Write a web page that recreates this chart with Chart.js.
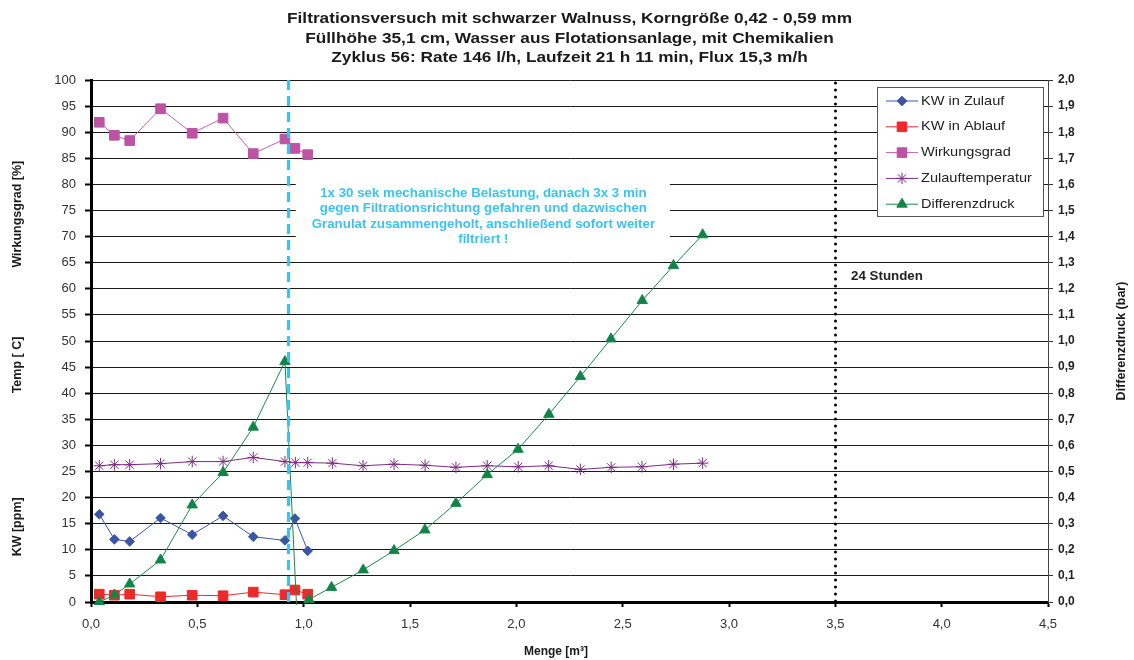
<!DOCTYPE html>
<html>
<head>
<meta charset="utf-8">
<script src="https://cdn.jsdelivr.net/npm/chart.js@4.4.1/dist/chart.umd.min.js"></script>
<style>
  html, body { margin: 0; padding: 0; background: #fff; overflow: hidden; }
  #wrap { width: 1134px; height: 660px; position: relative; }
</style>
</head>
<body>
<div id="wrap"><canvas id="c" width="1134" height="660"></canvas></div>
<script>
// Filtration run, cycle 56 – measured values over throughput (Menge in m³)

const titleLines = [
  'Filtrationsversuch mit schwarzer Walnuss, Korngröße 0,42 - 0,59 mm',
  'Füllhöhe 35,1 cm, Wasser aus Flotationsanlage, mit Chemikalien',
  'Zyklus 56: Rate 146 l/h, Laufzeit 21 h 11 min, Flux 15,3 m/h'
];

// sampling points for the lab measurements (before the backwash)
const mengeLabor = [0.039, 0.11, 0.182, 0.327, 0.476, 0.621, 0.763, 0.912, 0.959, 1.019];
const kwZulauf     = [16.8, 12.0, 11.6, 16.1, 12.9, 16.5, 12.5, 11.8, 16.0, 9.8];
const kwAblauf     = [1.5, 1.3, 1.5, 1.0, 1.3, 1.2, 1.9, 1.4, 2.3, 1.5];
const wirkungsgrad = [91.9, 89.4, 88.4, 94.5, 89.8, 92.7, 85.9, 88.7, 86.9, 85.7];

// inlet temperature
const mengeTemp = [0.039, 0.11, 0.182, 0.327, 0.476, 0.621, 0.763, 0.912, 0.961, 1.019,
                   1.135, 1.279, 1.425, 1.571, 1.716, 1.863, 2.009, 2.152, 2.301, 2.446,
                   2.591, 2.739, 2.876];
const temperatur = [26.1, 26.3, 26.3, 26.5, 26.9, 26.9, 27.7, 26.9, 26.7, 26.7,
                    26.6, 26.1, 26.4, 26.2, 25.8, 26.1, 25.9, 26.1, 25.4, 25.8,
                    25.9, 26.4, 26.6];

// differential pressure (bar)
const mengeDruck = [0.039, 0.11, 0.182, 0.327, 0.476, 0.621, 0.763, 0.912, 0.968, 1.025,
                    1.131, 1.28, 1.425, 1.57, 1.716, 1.863, 2.008, 2.153, 2.301, 2.445,
                    2.592, 2.739, 2.876];
const druck = [0.0, 0.027, 0.069, 0.161, 0.372, 0.496, 0.670, 0.921, -0.04, 0.01,
               0.056, 0.123, 0.197, 0.276, 0.378, 0.488, 0.585, 0.719, 0.864, 1.008,
               1.155, 1.289, 1.407];

// markers on the throughput axis
const mengeBelastung = 0.928;   // mechanical load / backwash
const menge24h = 3.5;           // 24 hours mark

const noteLines = [
  '1x 30 sek mechanische Belastung, danach 3x 3 min',
  'gegen Filtrationsrichtung gefahren und dazwischen',
  'Granulat zusammengeholt, anschließend sofort weiter',
  'filtriert !'
];
const note24h = '24 Stunden';

const leftAxisTitles = [
  { text: 'Wirkungsgrad [%]', value: 74.3 },
  { text: 'Temp [ C]', value: 45.4 },
  { text: 'KW [ppm]', value: 14.4 }
];
const rightAxisTitle = 'Differenzdruck (bar)';
const xAxisTitle = 'Menge [m³]';

const FONT = "'Liberation Sans', Arial, Helvetica, sans-serif";
const WIDE = 1.11;   // horizontal stretch of the annotation lettering

function pairs(xs, ys) { return xs.map((x, i) => ({ x, y: ys[i] })); }
function komma(v, d) { return Number(v).toFixed(d).replace('.', ','); }

// text drawn with a slight horizontal stretch (align handled by the caller)
function wideText(ctx, s, x, y, sx, align) {
  ctx.save();
  ctx.translate(x, y);
  ctx.scale(sx, 1);
  ctx.textAlign = align;
  ctx.fillText(s, 0, 0);
  ctx.restore();
}

const datasets = [
  {
    label: 'KW in Zulauf', data: pairs(mengeLabor, kwZulauf), yAxisID: 'y',
    borderColor: '#3B55A6', backgroundColor: '#3B55A6', borderWidth: 1,
    pointStyle: 'rectRot', pointRadius: 4.8, pointBorderWidth: 1, order: 1
  },
  {
    label: 'KW in Ablauf', data: pairs(mengeLabor, kwAblauf), yAxisID: 'y',
    borderColor: '#EC2A2A', backgroundColor: '#EC2A2A', borderWidth: 1,
    pointStyle: 'rect', pointRadius: 6.8, pointBorderWidth: 1, order: 2
  },
  {
    label: 'Wirkungsgrad', data: pairs(mengeLabor, wirkungsgrad), yAxisID: 'y',
    borderColor: '#C45FAE', backgroundColor: '#BD53A5', pointBorderColor: '#BD53A5', borderWidth: 1,
    pointStyle: 'rect', pointRadius: 6.8, pointBorderWidth: 1, order: 3
  },
  {
    label: 'Zulauftemperatur', data: pairs(mengeTemp, temperatur), yAxisID: 'y',
    borderColor: '#7C2C80', backgroundColor: '#7C2C80', borderWidth: 1,
    pointStyle: 'star', pointRadius: 5.8, pointBorderWidth: 1, order: 4
  },
  {
    label: 'Differenzdruck', data: pairs(mengeDruck, druck), yAxisID: 'y2',
    borderColor: '#178A4C', backgroundColor: '#138246', borderWidth: 1,
    pointStyle: 'triangle', pointRadius: 6, pointBorderWidth: 1, order: 0,
    clip: { left: 0, top: 0, right: 0, bottom: 3 }
  }
];

function marker(ctx, style, r, x, y, fill, stroke) {
  ctx.save();
  ctx.fillStyle = fill; ctx.strokeStyle = stroke; ctx.lineWidth = 1;
  ctx.beginPath();
  if (style === 'rect') {
    const s = r * Math.SQRT1_2;
    ctx.rect(x - s, y - s, 2 * s, 2 * s);
    ctx.fill(); ctx.stroke();
  } else if (style === 'rectRot') {
    ctx.moveTo(x, y - r); ctx.lineTo(x + r, y); ctx.lineTo(x, y + r); ctx.lineTo(x - r, y);
    ctx.closePath(); ctx.fill(); ctx.stroke();
  } else if (style === 'triangle') {
    let a = 0;
    ctx.moveTo(x + Math.sin(a) * r, y - Math.cos(a) * r);
    a += 2 * Math.PI / 3; ctx.lineTo(x + Math.sin(a) * r, y - Math.cos(a) * r);
    a += 2 * Math.PI / 3; ctx.lineTo(x + Math.sin(a) * r, y - Math.cos(a) * r);
    ctx.closePath(); ctx.fill(); ctx.stroke();
  } else if (style === 'star') {
    for (let k = 0; k < 4; k++) {
      const a = k * Math.PI / 4;
      ctx.moveTo(x - Math.cos(a) * r, y - Math.sin(a) * r);
      ctx.lineTo(x + Math.cos(a) * r, y + Math.sin(a) * r);
    }
    ctx.stroke();
  }
  ctx.restore();
}

const decorations = {
  id: 'decorations',
  beforeDatasetsDraw(chart) {
    const { ctx, scales: { x, y } } = chart;
    // white panel behind the note text
    const l = x.getPixelForValue(0.963), r = x.getPixelForValue(2.722);
    const t = y.getPixelForValue(81.4), b = y.getPixelForValue(67.6);
    ctx.save();
    ctx.fillStyle = '#fff';
    ctx.fillRect(l, t, r - l, b - t);
    ctx.restore();
  },
  afterDatasetsDraw(chart) {
    const { ctx, chartArea: ca, scales: { x, y } } = chart;
    ctx.save();
    // backwash marker
    const xb = Math.round(x.getPixelForValue(mengeBelastung)) + 0.5;
    ctx.strokeStyle = '#39C3EE'; ctx.lineWidth = 3; ctx.setLineDash([10, 6]);
    ctx.beginPath(); ctx.moveTo(xb, ca.top); ctx.lineTo(xb, ca.bottom); ctx.stroke();
    // 24 h marker
    const xd = Math.round(x.getPixelForValue(menge24h)) + 0.5;
    ctx.strokeStyle = '#000'; ctx.lineWidth = 3; ctx.lineCap = 'round'; ctx.setLineDash([0, 7]);
    ctx.beginPath(); ctx.moveTo(xd, ca.top + 3); ctx.lineTo(xd, ca.bottom); ctx.stroke();
    ctx.setLineDash([]); ctx.lineCap = 'butt';

    // note text
    ctx.fillStyle = '#3BC4EF';
    ctx.font = 'bold 12px ' + FONT;
    ctx.textBaseline = 'middle';
    const cx = x.getPixelForValue(1.845);
    const y0 = y.getPixelForValue(78.2);
    noteLines.forEach((s, i) => wideText(ctx, s, cx, y0 + i * 15.3, WIDE, 'center'));

    // 24 h label
    ctx.fillStyle = '#222';
    wideText(ctx, note24h, x.getPixelForValue(3.574), y.getPixelForValue(62.4), WIDE, 'left');

    // legend box
    const bw = 166, bh = 129;
    const bx = ca.right - 5 - bw, by = ca.top + 7;
    ctx.fillStyle = '#fff';
    ctx.fillRect(bx, by, bw, bh);
    ctx.strokeStyle = '#555'; ctx.lineWidth = 1;
    ctx.strokeRect(Math.round(bx) + 0.5, Math.round(by) + 0.5, bw, bh);
    ctx.font = '13px ' + FONT;
    ctx.textBaseline = 'middle';
    const legendOrder = [0, 1, 2, 3, 4];
    legendOrder.forEach((di, i) => {
      const ds = chart.data.datasets[di];
      const ly = by + 14 + i * 25.8;
      ctx.strokeStyle = ds.borderColor; ctx.lineWidth = 1;
      ctx.beginPath(); ctx.moveTo(bx + 9, ly); ctx.lineTo(bx + 41, ly); ctx.stroke();
      marker(ctx, ds.pointStyle, ds.pointRadius, bx + 25, ly,
             ds.backgroundColor, ds.pointBorderColor || ds.borderColor);
      ctx.fillStyle = '#222';
      wideText(ctx, ds.label, bx + 44, ly, 1.12, 'left');
    });
    ctx.restore();
  },
  afterDraw(chart) {
    const { ctx, chartArea: ca, scales: { y } } = chart;
    ctx.save();
    ctx.fillStyle = '#1a1a1a';
    // chart title
    ctx.font = 'bold 15px ' + FONT;
    ctx.textBaseline = 'middle';
    const tx = (ca.left + ca.right) / 2;
    titleLines.forEach((s, i) => wideText(ctx, s, tx, 19 + i * 19.5, 1.15, 'center'));

    // axis titles
    ctx.font = 'bold 12.5px ' + FONT;
    ctx.textAlign = 'center';
    leftAxisTitles.forEach(t => {
      ctx.save();
      ctx.translate(18, y.getPixelForValue(t.value));
      ctx.rotate(-Math.PI / 2);
      ctx.fillText(t.text, 0, 0);
      ctx.restore();
    });
    ctx.save();
    ctx.translate(1122, (ca.top + ca.bottom) / 2);
    ctx.rotate(-Math.PI / 2);
    ctx.fillText(rightAxisTitle, 0, 0);
    ctx.restore();
    ctx.font = 'bold 12px ' + FONT;
    ctx.fillText(xAxisTitle, 556, 652);
    ctx.restore();
  }
};

new Chart(document.getElementById('c'), {
  type: 'line',
  data: { datasets },
  plugins: [decorations],
  options: {
    responsive: false,
    animation: false,
    devicePixelRatio: 1,
    layout: { padding: { top: 80, left: 0, right: 0, bottom: 0 } },
    plugins: {
      legend: { display: false },
      title: { display: false },
      tooltip: { enabled: false }
    },
    elements: { line: { tension: 0 } },
    scales: {
      x: {
        type: 'linear', position: 'bottom', min: 0, max: 4.5,
        ticks: {
          stepSize: 0.5, autoSkip: false, maxRotation: 0, padding: 10,
          color: '#333', font: { family: FONT, size: 13 },
          callback: v => komma(v, 1)
        },
        grid: { drawOnChartArea: false, drawTicks: true, tickLength: 5, tickWidth: 2, tickColor: '#000' },
        border: { display: true, color: '#000', width: 3 },
        afterFit(s) { s.height = 58; }
      },
      y: {
        type: 'linear', position: 'left', min: 0, max: 100,
        ticks: {
          stepSize: 5, padding: 9, color: '#333', font: { family: FONT, size: 13 }
        },
        grid: { color: '#1a1a1a', lineWidth: 1, tickLength: 6, tickWidth: 2, tickColor: '#000' },
        border: { display: true, color: '#000', width: 3 },
        afterFit(s) { s.width = 91; }
      },
      y2: {
        type: 'linear', position: 'right', min: 0, max: 2,
        ticks: {
          stepSize: 0.1, padding: 5, color: '#222',
          font: { family: FONT, size: 12, weight: 'bold' },
          callback: v => komma(v, 1)
        },
        grid: { drawOnChartArea: false, tickLength: 5, tickWidth: 1, tickColor: '#333' },
        border: { display: true, color: '#444', width: 1 },
        afterFit(s) { s.width = 86; }
      }
    }
  }
});
</script>
</body>
</html>
